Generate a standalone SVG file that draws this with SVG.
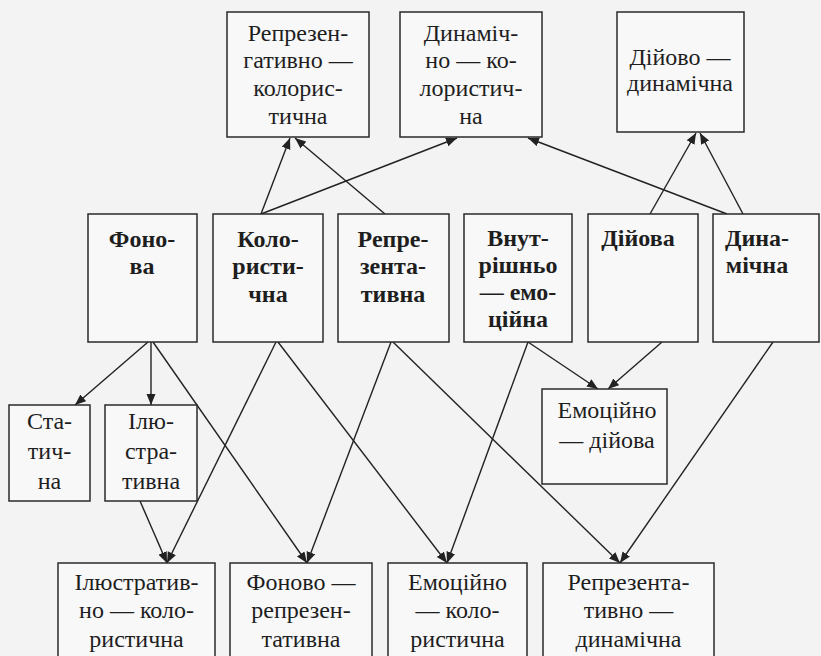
<svg xmlns="http://www.w3.org/2000/svg" width="821" height="656" viewBox="0 0 821 656">
<defs>
<marker id="ah" markerUnits="userSpaceOnUse" markerWidth="12" markerHeight="10" refX="11" refY="4.5" orient="auto">
<path d="M0,0 L11,4.5 L0,9 z" fill="#222"/>
</marker>
</defs>
<rect x="0" y="0" width="821" height="656" fill="#f3f3f3"/>
<g id="connectors" stroke="#222" stroke-width="1.4" marker-end="url(#ah)">
<line x1="261" y1="214" x2="290" y2="138"/>
<line x1="261" y1="214" x2="457" y2="138"/>
<line x1="385" y1="214" x2="295" y2="138"/>
<line x1="727" y1="214" x2="528" y2="138"/>
<line x1="650" y1="214" x2="696" y2="133"/>
<line x1="743" y1="214" x2="700" y2="133"/>
<line x1="148" y1="342" x2="75" y2="405"/>
<line x1="151" y1="342" x2="151" y2="405"/>
<line x1="153" y1="342" x2="307" y2="563"/>
<line x1="140" y1="501" x2="167" y2="563"/>
<line x1="276" y1="342" x2="167" y2="563"/>
<line x1="278" y1="342" x2="447" y2="563"/>
<line x1="391" y1="342" x2="307" y2="563"/>
<line x1="393" y1="342" x2="620" y2="563"/>
<line x1="528" y1="342" x2="447" y2="563"/>
<line x1="528" y1="342" x2="598" y2="389"/>
<line x1="662" y1="342" x2="608" y2="389"/>
<line x1="773" y1="342" x2="620" y2="563"/>
</g>
<g id="nodes" font-family="Liberation Serif" font-size="24" text-anchor="middle" fill="#1e1e1e">
<g id="n-repr-kolor">
<rect x="227" y="12" width="142" height="125" fill="#f8f8f8" stroke="#2a2a2a" stroke-width="1.5"/>
<text x="298" y="41">Репрезен-</text>
<text x="298" y="68">гативно —</text>
<text x="298" y="96">колорис-</text>
<text x="298" y="124">тична</text>
</g>
<g id="n-dyn-kolor">
<rect x="400" y="12" width="142" height="125" fill="#f8f8f8" stroke="#2a2a2a" stroke-width="1.5"/>
<text x="471" y="41">Динаміч-</text>
<text x="471" y="68">но — ко-</text>
<text x="471" y="96">лористич-</text>
<text x="471" y="124">на</text>
</g>
<g id="n-diy-dyn">
<rect x="617" y="12" width="127" height="120" fill="#f8f8f8" stroke="#2a2a2a" stroke-width="1.5"/>
<text x="680" y="65">Дійово —</text>
<text x="680" y="91">динамічна</text>
</g>
<g id="n-fonova" font-weight="bold">
<rect x="88" y="214" width="109" height="128" fill="#f8f8f8" stroke="#2a2a2a" stroke-width="1.5"/>
<text x="142" y="247">Фоно-</text>
<text x="142" y="274">ва</text>
</g>
<g id="n-kolor" font-weight="bold">
<rect x="213" y="214" width="110" height="128" fill="#f8f8f8" stroke="#2a2a2a" stroke-width="1.5"/>
<text x="268" y="247">Коло-</text>
<text x="268" y="274">ристи-</text>
<text x="268" y="302">чна</text>
</g>
<g id="n-repr" font-weight="bold">
<rect x="338" y="214" width="111" height="128" fill="#f8f8f8" stroke="#2a2a2a" stroke-width="1.5"/>
<text x="393" y="247">Репре-</text>
<text x="393" y="274">зента-</text>
<text x="393" y="302">тивна</text>
</g>
<g id="n-vnutr" font-weight="bold">
<rect x="464" y="214" width="108" height="128" fill="#f8f8f8" stroke="#2a2a2a" stroke-width="1.5"/>
<text x="518" y="246">Внут-</text>
<text x="518" y="273">рішньо</text>
<text x="518" y="300">— емо-</text>
<text x="518" y="327">ційна</text>
</g>
<g id="n-diyova" font-weight="bold">
<rect x="588" y="214" width="110" height="128" fill="#f8f8f8" stroke="#2a2a2a" stroke-width="1.5"/>
<text x="638" y="246">Дійова</text>
</g>
<g id="n-dynam" font-weight="bold">
<rect x="713" y="214" width="106" height="128" fill="#f8f8f8" stroke="#2a2a2a" stroke-width="1.5"/>
<text x="757" y="246">Дина-</text>
<text x="757" y="273">мічна</text>
</g>
<g id="n-static">
<rect x="9" y="405" width="81" height="96" fill="#f8f8f8" stroke="#2a2a2a" stroke-width="1.5"/>
<text x="49.5" y="429">Ста-</text>
<text x="49.5" y="459">тич-</text>
<text x="49.5" y="489">на</text>
</g>
<g id="n-ilustr">
<rect x="105" y="405" width="92" height="96" fill="#f8f8f8" stroke="#2a2a2a" stroke-width="1.5"/>
<text x="151" y="429">Ілю-</text>
<text x="151" y="459">стра-</text>
<text x="151" y="489">тивна</text>
</g>
<g id="n-emo-diy">
<rect x="542" y="389" width="125" height="95" fill="#f8f8f8" stroke="#2a2a2a" stroke-width="1.5"/>
<text x="607" y="418">Емоційно</text>
<text x="607" y="448">— дійова</text>
</g>
<g id="n-ilustr-kolor">
<rect x="58" y="563" width="157" height="110" fill="#f8f8f8" stroke="#2a2a2a" stroke-width="1.5"/>
<text x="136.5" y="590">Ілюстратив-</text>
<text x="136.5" y="618">но — коло-</text>
<text x="136.5" y="647">ристична</text>
</g>
<g id="n-fon-repr">
<rect x="230" y="563" width="142" height="110" fill="#f8f8f8" stroke="#2a2a2a" stroke-width="1.5"/>
<text x="301" y="590">Фоново —</text>
<text x="301" y="618">репрезен-</text>
<text x="301" y="647">тативна</text>
</g>
<g id="n-emo-kolor">
<rect x="388" y="563" width="139" height="110" fill="#f8f8f8" stroke="#2a2a2a" stroke-width="1.5"/>
<text x="457.5" y="590">Емоційно</text>
<text x="457.5" y="618">— коло-</text>
<text x="457.5" y="647">ристична</text>
</g>
<g id="n-repr-dyn">
<rect x="543" y="563" width="171" height="110" fill="#f8f8f8" stroke="#2a2a2a" stroke-width="1.5"/>
<text x="628.5" y="590">Репрезента-</text>
<text x="628.5" y="618">тивно —</text>
<text x="628.5" y="647">динамічна</text>
</g>
</g>
</svg>
